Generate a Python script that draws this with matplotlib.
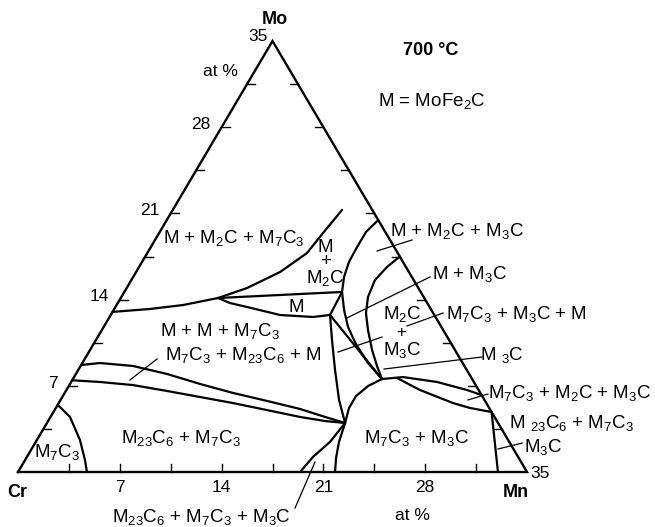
import matplotlib
matplotlib.use("Agg")
import matplotlib.pyplot as plt
import numpy as np

plt.rcParams['font.family'] = ['Liberation Sans', 'DejaVu Sans']
plt.rcParams['mathtext.fontset'] = 'custom'
plt.rcParams['mathtext.rm'] = 'Liberation Sans'
plt.rcParams['mathtext.it'] = 'Liberation Sans:italic'
plt.rcParams['mathtext.bf'] = 'Liberation Sans:bold'

SIDE = 35.0
tick_values = [3.5, 7, 10.5, 14, 17.5, 21, 24.5, 28, 31.5]
labelled_ticks = [7, 14, 21, 28]

# Phase boundaries, each given as (Mn at%, Mo at%) pairs; Cr is the balance.
cr_corner_mn = [0.0, 0.58, 1.34, 2.96, 4.12, 4.74]
cr_corner_mo = [5.45, 5.03, 4.47, 2.60, 0.97, 0.0]

band_top_mn = [0.0, 1.21, 3.60, 6.27, 8.94, 11.57, 14.24, 16.83, 18.88, 20.50]
band_top_mo = [8.69, 8.85, 8.61, 7.96, 7.15, 6.42, 5.77, 5.12, 4.47, 3.98]

band_bot_mn = [0.0, 1.98, 4.38, 6.96, 9.47, 11.98, 14.60, 17.16, 19.04, 20.50]
band_bot_mo = [7.45, 7.31, 7.06, 6.58, 6.09, 5.60, 5.03, 4.47, 4.14, 3.98]

mo14_line_mn = [0.0, 2.46, 4.57, 6.69]
mo14_line_mo = [13.0, 13.24, 13.56, 14.13]

m2c_left_mn = [6.69, 8.28, 9.90, 10.98, 11.27, 11.64]
m2c_left_mo = [14.13, 14.94, 16.24, 17.78, 19.41, 21.28]

m_band_top_mn = [6.69, 14.97]
m_band_top_mo = [14.13, 14.62]

m_band_bot_mn = [6.69, 7.72, 9.05, 11.64, 13.99, 15.08]
m_band_bot_mo = [14.13, 13.72, 13.40, 12.75, 12.59, 12.75]

m_band_end_mn = [15.08, 14.97]
m_band_end_mo = [12.75, 14.62]

m_to_m23_mn = [15.08, 16.23, 17.66, 19.15, 20.50]
m_to_m23_mo = [12.75, 10.72, 8.28, 5.85, 3.98]

m_to_m3c_mn = [15.08, 21.25]
m_to_m3c_mo = [12.75, 7.55]

outer_arc_mn = [14.54, 14.18, 14.18, 14.23, 14.50, 14.97, 15.84, 16.81, 18.04, 19.64, 21.25]
outer_arc_mo = [20.46, 19.49, 18.27, 17.05, 15.84, 14.62, 13.16, 11.77, 10.39, 8.85, 7.55]

inner_arc_mn = [17.5, 17.05, 16.75, 16.96, 17.47, 18.30, 19.39, 20.38, 21.25]
inner_arc_mo = [17.5, 16.65, 15.59, 14.21, 12.91, 11.53, 9.91, 8.61, 7.55]

m3c_upper_mn = [21.25, 22.62, 25.16, 27.54, 28.75]
m3c_upper_mo = [7.55, 7.71, 7.31, 6.66, 6.25]

m3c_lower_mn = [22.25, 24.31, 27.11, 28.48, 30.13]
m3c_lower_mo = [7.63, 6.66, 5.60, 5.20, 4.87]

dome_mn = [21.25, 20.58, 20.16, 20.16, 20.50, 20.85, 21.30, 21.80]
dome_mo = [7.55, 6.98, 6.17, 5.20, 3.98, 2.44, 1.14, 0.0]

m23_m3c_mn = [20.50, 20.23, 19.67, 19.39]
m23_m3c_mo = [3.98, 2.44, 1.22, 0.0]

mn_side_mn = [30.13, 33.0]
mn_side_mo = [4.87, 0.0]

boundaries = [
    (cr_corner_mn, cr_corner_mo), (band_top_mn, band_top_mo),
    (band_bot_mn, band_bot_mo), (mo14_line_mn, mo14_line_mo),
    (m2c_left_mn, m2c_left_mo), (m_band_top_mn, m_band_top_mo),
    (m_band_bot_mn, m_band_bot_mo), (m_band_end_mn, m_band_end_mo),
    (m_to_m23_mn, m_to_m23_mo), (m_to_m3c_mn, m_to_m3c_mo),
    (outer_arc_mn, outer_arc_mo), (inner_arc_mn, inner_arc_mo),
    (m3c_upper_mn, m3c_upper_mo), (m3c_lower_mn, m3c_lower_mo),
    (dome_mn, dome_mo), (m23_m3c_mn, m23_m3c_mo), (mn_side_mn, mn_side_mo),
]


def to_xy(mn, mo):
    """Ternary (Mn, Mo) -> plane coordinates with Cr at the origin."""
    mn = np.asarray(mn, float)
    mo = np.asarray(mo, float)
    return mn + mo / 2.0, mo


fig = plt.figure(figsize=(6.55, 5.27), dpi=100)
ax = fig.add_axes([0, 0, 1, 1])
ax.set_xlim(-1.238, 43.80)
ax.set_ylim(-4.466, 38.33)
ax.axis('off')

# triangle frame
fx, fy = to_xy([0, SIDE, 0, 0], [0, 0, SIDE, 0])
ax.plot(fx, fy, color='black', lw=1.7, solid_joinstyle='miter')

# ticks on the three sides
tlx, tly = 0.55, 0.65
for v in tick_values:
    x, y = to_xy(0, v)            # Cr-Mo side
    ax.plot([x, x + tlx], [y, y], color='black', lw=1.0)
    x, y = to_xy(SIDE - v, v)     # Mn-Mo side
    ax.plot([x - tlx, x], [y, y], color='black', lw=1.0)
    x, y = to_xy(v, 0)            # Cr-Mn side
    ax.plot([x, x], [0, tly], color='black', lw=1.0)

for mn, mo in boundaries:
    x, y = to_xy(mn, mo)
    ax.plot(x, y, color='black', lw=1.6, solid_capstyle='round',
            solid_joinstyle='round')

# tick labels
for v in labelled_ticks:
    x, y = to_xy(0, v)
    ax.text(x - 0.75, y - 0.15, str(v), fontsize=12.5, ha='right', va='baseline')
    x, y = to_xy(v, 0)
    ax.text(x, -1.62, str(v), fontsize=12.5, ha='center', va='baseline')

ax.text(16.50, 35.0, '35', fontsize=12.5, ha='center', va='baseline')
ax.text(35.89, -0.49, '35', fontsize=12.5, ha='center', va='baseline')
ax.text(17.67, 36.38, 'Mo', fontsize=13, fontweight='bold', ha='center', va='baseline')
ax.text(-0.07, -2.03, 'Cr', fontsize=13, fontweight='bold', ha='center', va='baseline')
ax.text(34.24, -2.03, 'Mn', fontsize=13, fontweight='bold', ha='center', va='baseline')
ax.text(13.89, 32.16, 'at %', fontsize=12.5, ha='center', va='baseline')
ax.text(27.09, -3.90, 'at %', fontsize=12.5, ha='center', va='baseline')
ax.text(28.40, 33.86, '700 °C', fontsize=13, fontweight='bold', ha='center', va='baseline')
ax.text(28.47, 29.72, r'M = MoFe$_2$C', fontsize=13.5, ha='center', va='baseline')

# phase-field labels (plane coordinates)
field_labels = [
    (r'M + M$_2$C + M$_7$C$_3$', 14.85, 18.60),
    ('M', 19.12, 12.99),
    (r'M + M + M$_7$C$_3$', 13.89, 11.04),
    (r'M$_7$C$_3$ + M$_{23}$C$_6$ + M', 15.47, 9.09),
    (r'M$_{23}$C$_6$ + M$_7$C$_3$', 11.21, 2.35),
    (r'M$_7$C$_3$', 2.68, 1.22),
    (r'M$_{23}$C$_6$ + M$_7$C$_3$ + M$_3$C', 12.58, -4.06),
    (r'M$_7$C$_3$ + M$_3$C', 27.37, 2.35),
    (r'M + M$_2$C + M$_3$C', 30.19, 19.16),
    (r'M + M$_3$C', 31.08, 15.67),
    (r'M$_2$C', 26.40, 12.42),
    (r'M$_3$C', 26.40, 9.50),
    (r'M$_7$C$_3$ + M$_3$C + M', 34.31, 12.42),
    (r'M $_3$C', 33.28, 9.09),
    (r'M$_7$C$_3$ + M$_2$C + M$_3$C', 37.96, 6.01),
    (r'M $_{23}$C$_6$ + M$_7$C$_3$', 38.03, 3.57),
    (r'M$_3$C', 36.10, 1.62),
]
for txt, x, y in field_labels:
    ax.text(x, y, txt, fontsize=13.5, ha='center', va='baseline')

# stacked label of the narrow M + M2C field
ax.text(21.15, 16.95, 'M\n+\nM$_2$C', fontsize=13.5, ha='center', va='center',
        multialignment='center', linespacing=0.82)

ax.text(26.34, 11.30, '+', fontsize=12, ha='center', va='center')

# leader lines from labels to their fields
leaders = [
    ((7.70, 7.47), (9.56, 9.18)),
    ((19.05, -2.92), (20.42, 0.81)),
    ((24.69, 17.95), (27.09, 18.84)),
    ((22.62, 12.51), (28.33, 15.84)),
    ((22.00, 9.74), (25.03, 10.96)),
    ((26.75, 11.86), (29.22, 12.91)),
    ((25.17, 8.36), (31.90, 9.34)),
    ((30.94, 5.85), (32.31, 6.33)),
    ((33.01, 1.87), (34.66, 2.35)),
]
for (x0, y0), (x1, y1) in leaders:
    ax.plot([x0, x1], [y0, y1], color='black', lw=0.9)

fig.savefig('out.png', dpi=100, facecolor='white')
